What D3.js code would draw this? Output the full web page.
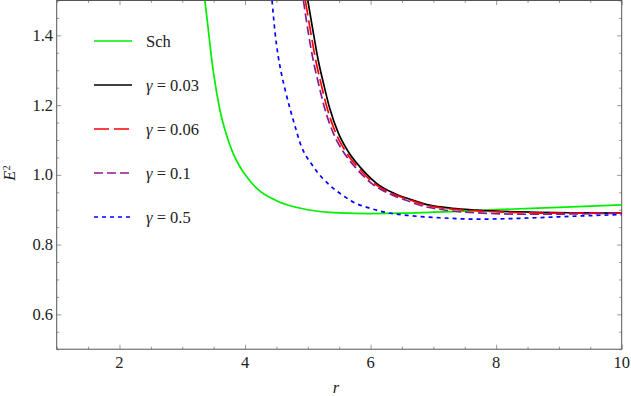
<!DOCTYPE html>
<html>
<head>
<meta charset="utf-8">
<script src="https://cdn.jsdelivr.net/npm/d3@7"></script>
</head>
<body style="margin:0">
<svg id="svg" width="631" height="396"></svg>
<script>

const width = 631;
const height = 396;
const labelFont = "\"Liberation Serif\"";
const baseSize = 22;
const textSize = 16.5;

// values
const rSch = [3.36, 3.40, 3.45, 3.50, 3.60, 3.70, 3.80, 3.90, 4.00, 4.20, 4.50, 5.00, 5.50, 6.00, 6.50, 7.00, 7.50, 8.00, 9.00, 10.0];
const eSch = [1.50, 1.44, 1.36, 1.29, 1.186, 1.117, 1.066, 1.029, 1.001, 0.959, 0.926, 0.900, 0.891, 0.889, 0.890, 0.893, 0.896, 0.900, 0.907, 0.914];

const rG003 = [5.00, 5.09, 5.17, 5.25, 5.35, 5.49, 5.65, 5.83, 6.10, 6.40, 6.68, 6.94, 7.30, 7.69, 8.54, 9.30, 10.0];
const eG003 = [1.50, 1.405, 1.325, 1.262, 1.190, 1.118, 1.065, 1.023, 0.975, 0.945, 0.927, 0.913, 0.904, 0.899, 0.893, 0.891, 0.890];

const rG006 = [4.96, 5.05, 5.13, 5.21, 5.31, 5.45, 5.61, 5.79, 6.06, 6.36, 6.64, 6.91, 7.28, 7.67, 8.54, 9.30, 10.0];
const eG006 = [1.50, 1.405, 1.325, 1.262, 1.190, 1.118, 1.065, 1.023, 0.975, 0.945, 0.927, 0.912, 0.902, 0.897, 0.891, 0.890, 0.890];

const rG01 = [4.93, 5.01, 5.09, 5.17, 5.27, 5.41, 5.57, 5.75, 6.02, 6.31, 6.57, 6.80, 7.15, 7.58, 8.54, 9.30, 10.0];
const eG01 = [1.50, 1.405, 1.325, 1.262, 1.190, 1.118, 1.065, 1.023, 0.975, 0.945, 0.927, 0.912, 0.900, 0.892, 0.887, 0.888, 0.890];

const rG05 = [4.43, 4.48, 4.53, 4.58, 4.64, 4.80, 4.88, 5.09, 5.35, 5.59, 5.72, 5.96, 6.20, 6.63, 7.10, 7.69, 8.64, 9.17, 10.0];
const eG05 = [1.50, 1.405, 1.338, 1.290, 1.243, 1.137, 1.090, 1.023, 0.970, 0.937, 0.922, 0.906, 0.894, 0.883, 0.877, 0.873, 0.877, 0.881, 0.886];

const legendNames = ["Sch", "0.03", "0.06", "0.1", "0.5"];
const xTicks = [2, 4, 6, 8, 10];
const yTicks = [0.6, 0.8, 1.0, 1.2, 1.4];

const series = [
	{ r: rSch, e: eSch, color: "#00ee00", dash: null },
	{ r: rG003, e: eG003, color: "#000000", dash: null },
	{ r: rG006, e: eG006, color: "#ff0000", dash: "15,5" },
	{ r: rG01, e: eG01, color: "#8b1a8b", dash: "9,4" },
	{ r: rG05, e: eG05, color: "#0000ff", dash: "4,4" }
];

const plotLeft = 56.7, plotRight = 621.7, plotTop = 0.5, plotBottom = 349.2;

const x = d3.scaleLinear().domain([1, 10]).range([plotLeft, plotRight]);
const y = d3.scaleLinear().domain([0.5, 1.5]).range([plotBottom, plotTop]);

const svg = d3.select("#svg");

// text is set at a larger size and scaled down to the wanted size
function addText(parent, px, py, anchor, extra) {
	return parent.append("text")
		.attr("transform", `translate(${px},${py})${extra || ""} scale(${textSize / baseSize})`)
		.attr("text-anchor", anchor)
		.attr("fill", "#222")
		.style("font-family", labelFont)
		.style("font-size", baseSize + "px");
}

svg.append("defs").append("clipPath")
	.attr("id", "plot")
	.append("rect")
	.attr("x", plotLeft).attr("y", plotTop)
	.attr("width", plotRight - plotLeft).attr("height", plotBottom - plotTop);

const xMinor = d3.range(1, 10.01, 0.5).filter(v => xTicks.indexOf(v) < 0);
const yMinor = d3.range(0.5, 1.501, 0.05).map(v => +v.toFixed(2)).filter(v => yTicks.indexOf(v) < 0);

function styleAxis(g) {
	g.select(".domain").remove();
	g.selectAll(".tick line").attr("stroke", "#999");
	g.selectAll(".tick text").remove();
}

// bottom and top
svg.append("g").attr("transform", `translate(0,${plotBottom})`)
	.call(d3.axisBottom(x).tickValues(xTicks).tickSize(-4.5))
	.call(styleAxis);
svg.append("g").attr("transform", `translate(0,${plotBottom})`)
	.call(d3.axisBottom(x).tickValues(xMinor).tickSize(-2.5))
	.call(styleAxis);
svg.append("g").attr("transform", `translate(0,${plotTop})`)
	.call(d3.axisTop(x).tickValues(xTicks).tickSize(-4.5))
	.call(styleAxis);
svg.append("g").attr("transform", `translate(0,${plotTop})`)
	.call(d3.axisTop(x).tickValues(xMinor).tickSize(-2.5))
	.call(styleAxis);

// left and right
svg.append("g").attr("transform", `translate(${plotLeft},0)`)
	.call(d3.axisLeft(y).tickValues(yTicks).tickSize(-4.5))
	.call(styleAxis);
svg.append("g").attr("transform", `translate(${plotLeft},0)`)
	.call(d3.axisLeft(y).tickValues(yMinor).tickSize(-2.5))
	.call(styleAxis);
svg.append("g").attr("transform", `translate(${plotRight},0)`)
	.call(d3.axisRight(y).tickValues(yTicks).tickSize(-4.5))
	.call(styleAxis);
svg.append("g").attr("transform", `translate(${plotRight},0)`)
	.call(d3.axisRight(y).tickValues(yMinor).tickSize(-2.5))
	.call(styleAxis);

// tick labels
const fmtX = d3.format("d");
const fmtY = d3.format(".1f");
xTicks.forEach(v => addText(svg, x(v), 368, "middle").text(fmtX(v)));
yTicks.forEach(v => addText(svg, 53, y(v) + 5.5, "end").text(fmtY(v)));

svg.append("rect")
	.attr("x", plotLeft).attr("y", plotTop)
	.attr("width", plotRight - plotLeft).attr("height", plotBottom - plotTop)
	.attr("fill", "none")
	.attr("stroke", "#555")
	.attr("stroke-width", 1);

const line = d3.line()
			.x(d => x(d[0]))
			.y(d => y(d[1]))
			.curve(d3.curveMonotoneX);

const curves = svg.append("g").attr("clip-path", "url(#plot)");

curves.selectAll("path")
	.data(series)
	.enter().append("path")
	.attr("d", s => line(s.r.map((r, i) => [r, s.e[i]])))
	.attr("fill", "none")
	.attr("stroke", s => s.color)
	.attr("stroke-width", 1.7)
	.attr("stroke-dasharray", s => s.dash);

// legend
series.forEach((s, i) => {
	const cy = 41 + i * 44;
	svg.append("line")
		.attr("x1", 94).attr("x2", 132)
		.attr("y1", cy).attr("y2", cy)
		.attr("stroke", s.color)
		.attr("stroke-width", 1.7)
		.attr("stroke-dasharray", s.dash);
	const t = addText(svg, 146, cy + 5.5, "start");
	if (i === 0) {
		t.text(legendNames[0]);
	} else {
		t.append("tspan").style("font-style", "italic").text("γ");
		t.append("tspan").text(" = " + legendNames[i]);
	}
});

// axis labels
addText(svg, 336, 393, "middle").style("font-style", "italic").text("r");

const yLab = addText(svg, 15, 173, "middle", " rotate(-90)");
yLab.append("tspan").style("font-style", "italic").text("E");
yLab.append("tspan").attr("dy", "-0.45em").style("font-size", "14px").text("2");

</script>
</body>
</html>
